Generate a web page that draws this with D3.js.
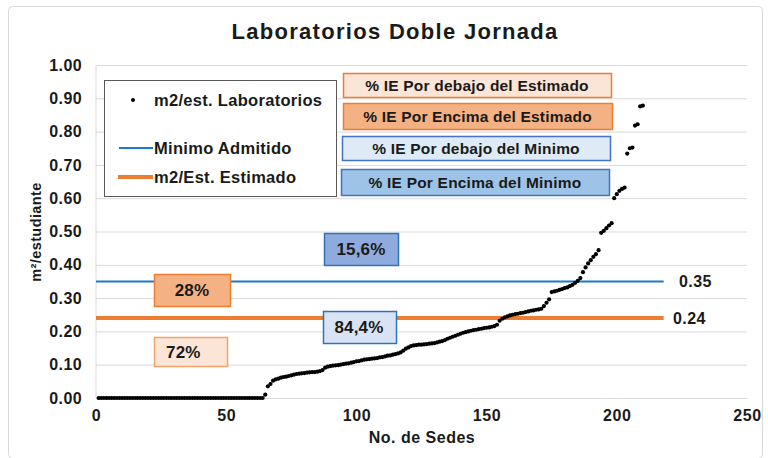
<!DOCTYPE html>
<html>
<head>
<meta charset="utf-8">
<script src="https://cdn.jsdelivr.net/npm/d3@7/dist/d3.min.js"></script>
<style>
	body { margin: 0; background: #fff; }
	svg text { font-family: "Liberation Sans", Arial, sans-serif; font-weight: bold; fill: #1a1a1a; }
</style>
</head>
<body>
<div id="chart"></div>
<script>

// m2 por estudiante en laboratorios, sedes ordenadas (sede 1..210)
var m2Laboratorios = [
	0, 0, 0, 0, 0, 0, 0, 0, 0, 0,
	0, 0, 0, 0, 0, 0, 0, 0, 0, 0,
	0, 0, 0, 0, 0, 0, 0, 0, 0, 0,
	0, 0, 0, 0, 0, 0, 0, 0, 0, 0,
	0, 0, 0, 0, 0, 0, 0, 0, 0, 0,
	0, 0, 0, 0, 0, 0, 0, 0, 0, 0,
	0, 0, 0, 0, 0.010, 0.035, 0.042, 0.052, 0.056, 0.058,
	0.061, 0.063, 0.064, 0.066, 0.068, 0.070, 0.072, 0.073, 0.074, 0.075,
	0.076, 0.077, 0.078, 0.078, 0.079, 0.081, 0.084, 0.091, 0.094, 0.096,
	0.097, 0.098, 0.099, 0.100, 0.102, 0.103, 0.104, 0.106, 0.108, 0.110,
	0.111, 0.113, 0.115, 0.116, 0.117, 0.118, 0.119, 0.120, 0.122, 0.123,
	0.125, 0.127, 0.128, 0.130, 0.132, 0.134, 0.137, 0.142, 0.148, 0.152,
	0.156, 0.158, 0.159, 0.160, 0.160, 0.161, 0.162, 0.163, 0.164, 0.165,
	0.167, 0.169, 0.171, 0.174, 0.178, 0.181, 0.184, 0.187, 0.190, 0.193,
	0.196, 0.198, 0.200, 0.202, 0.204, 0.205, 0.207, 0.208, 0.210, 0.211,
	0.212, 0.214, 0.216, 0.220, 0.232, 0.238, 0.242, 0.245, 0.248, 0.250,
	0.252, 0.253, 0.255, 0.256, 0.258, 0.260, 0.262, 0.263, 0.265, 0.266,
	0.268, 0.276, 0.286, 0.296, 0.318, 0.320, 0.322, 0.325, 0.327, 0.330,
	0.332, 0.336, 0.340, 0.346, 0.352, 0.360, 0.378, 0.392, 0.404, 0.414,
	0.424, 0.432, 0.444, 0.496, 0.502, 0.510, 0.518, 0.525, 0.600, 0.612,
	0.622, 0.628, 0.632, 0.734, 0.750, 0.752, 0.818, 0.822, 0.876, 0.878
];

var minimoAdmitido = 0.35;
var m2Estimado = 0.24;
var lineasX = [0, 218];

var xTicks = [0, 50, 100, 150, 200, 250];
var yTicks = [0, 0.1, 0.2, 0.3, 0.4, 0.5, 0.6, 0.7, 0.8, 0.9, 1.0];

var titulo = 'Laboratorios Doble Jornada';
var tituloX = 'No. de Sedes';
var tituloY = 'm²/estudiante';
var leyenda = ['m2/est. Laboratorios', 'Minimo Admitido', 'm2/Est. Estimado'];
var cajasIE = ['% IE Por debajo del Estimado', '% IE Por Encima del Estimado', '% IE Por debajo del Minimo', '% IE Por Encima del Minimo'];
var porcentajes = ['15,6%', '28%', '84,4%', '72%'];

// layout (px)
var width = 768, height = 458;
var plot = { left: 96, right: 747, top: 65, bottom: 398 };

var cajasIELayout = [
	{ x: 343, y: 73, w: 268, h: 24, fill: '#fbe5d6', stroke: '#ed7d31' },
	{ x: 343, y: 103, w: 269, h: 26, fill: '#f4b183', stroke: '#ed7d31' },
	{ x: 342, y: 136, w: 268, h: 24, fill: '#deebf7', stroke: '#4472c4' },
	{ x: 341, y: 169, w: 268, h: 26, fill: '#9dc3e6', stroke: '#4472c4' }
];
var porcentajesLayout = [
	{ x: 324, y: 233, w: 74, h: 32, fill: '#8faadc', stroke: '#2e75b6', tx: 361, anchor: 'middle' },
	{ x: 154, y: 274, w: 76, h: 32, fill: '#f4b183', stroke: '#ed7d31', tx: 192, anchor: 'middle' },
	{ x: 323, y: 311, w: 73, h: 32, fill: '#dae3f3', stroke: '#2e75b6', tx: 359, anchor: 'middle' },
	{ x: 154, y: 337, w: 73, h: 29, fill: '#fbe5d6', stroke: '#f4a16a', tx: 166, anchor: 'start' }
];

var svg = d3.select('#chart').append('svg')
	.attr('width', width)
	.attr('height', height);

svg.append('rect')
	.attr('x', 8.5).attr('y', 6.5)
	.attr('width', 754).attr('height', 452)
	.attr('rx', 4)
	.attr('fill', '#fff')
	.attr('stroke', '#d9d9d9');

var x = d3.scaleLinear().domain([0, 250]).range([plot.left, plot.right]);
var y = d3.scaleLinear().domain([0, 1]).range([plot.bottom, plot.top]);

// eje y + grilla
var yAxis = svg.append('g')
	.attr('transform', 'translate(' + plot.left + ',0)')
	.call(d3.axisLeft(y)
		.tickValues(yTicks)
		.tickFormat(d3.format('.2f'))
		.tickSize(-(plot.right - plot.left))
		.tickPadding(14));
yAxis.select('.domain').remove();
yAxis.selectAll('line').attr('stroke', '#d9d9d9');
yAxis.selectAll('text')
	.attr('fill', '#1a1a1a')
	.style('font-size', '16px')
	.style('letter-spacing', '0.4px');

svg.append('line')
	.attr('x1', plot.left).attr('x2', plot.left)
	.attr('y1', plot.top).attr('y2', plot.bottom)
	.attr('stroke', '#d9d9d9');

var xAxis = svg.append('g')
	.attr('transform', 'translate(0,' + plot.bottom + ')')
	.call(d3.axisBottom(x)
		.tickValues(xTicks)
		.tickSize(0)
		.tickPadding(12));
xAxis.select('.domain').remove();
xAxis.selectAll('text')
	.attr('fill', '#1a1a1a')
	.style('font-size', '16px')
	.style('letter-spacing', '0.6px');

// titulos
svg.append('text')
	.attr('x', 395).attr('y', 39)
	.attr('text-anchor', 'middle')
	.style('font-size', '22px')
	.style('letter-spacing', '1.3px')
	.attr('fill', '#000')
	.text(titulo);

svg.append('text')
	.attr('x', 422).attr('y', 443)
	.attr('text-anchor', 'middle')
	.style('font-size', '16px')
	.style('letter-spacing', '0.5px')
	.text(tituloX);

svg.append('text')
	.attr('transform', 'translate(41,232) rotate(-90)')
	.attr('text-anchor', 'middle')
	.style('font-size', '14.5px')
	.style('letter-spacing', '0.4px')
	.text(tituloY);

// lineas de referencia
var refs = [
	{ v: minimoAdmitido, color: '#1f78c8', w: 2, lx: 679, ly: 287 },
	{ v: m2Estimado, color: '#ed7d31', w: 4, lx: 673, ly: 324 }
];
refs.forEach(function(r) {
	svg.append('line')
		.attr('x1', x(lineasX[0])).attr('x2', x(lineasX[1]))
		.attr('y1', y(r.v)).attr('y2', y(r.v))
		.attr('stroke', r.color)
		.attr('stroke-width', r.w);
	svg.append('text')
		.attr('x', r.lx).attr('y', r.ly)
		.style('font-size', '16px')
		.style('letter-spacing', '0.4px')
		.text(d3.format('.2f')(r.v));
});

// puntos
svg.append('g').selectAll('circle')
	.data(m2Laboratorios)
	.enter()
		.append('circle')
		.attr('cx', function(d, i) { return x(i + 1); })
		.attr('cy', function(d) { return y(d); })
		.attr('r', 2.1)
		.attr('fill', '#000');

// leyenda
var leg = svg.append('g');
leg.append('rect')
	.attr('x', 104.5).attr('y', 80.5)
	.attr('width', 232).attr('height', 116)
	.attr('fill', '#fff')
	.attr('stroke', '#595959');
var legRows = [100, 148, 177];
leg.append('circle').attr('cx', 133).attr('cy', legRows[0]).attr('r', 2).attr('fill', '#000');
leg.append('line').attr('x1', 119).attr('x2', 153).attr('y1', legRows[1]).attr('y2', legRows[1])
	.attr('stroke', '#1f78c8').attr('stroke-width', 2);
leg.append('line').attr('x1', 118).attr('x2', 153).attr('y1', legRows[2]).attr('y2', legRows[2])
	.attr('stroke', '#ed7d31').attr('stroke-width', 4);
leg.selectAll('text.legtxt')
	.data(leyenda)
	.enter()
		.append('text')
		.attr('class', 'legtxt')
		.attr('x', 154)
		.attr('y', function(d, i) { return legRows[i] + 6; })
		.style('font-size', '16.5px')
		.style('letter-spacing', '0.3px')
		.text(function(d) { return d; });

// cajas de texto
var cajas = svg.append('g');
cajasIE.forEach(function(t, i) {
	var c = cajasIELayout[i];
	cajas.append('rect')
		.attr('x', c.x + 0.5).attr('y', c.y + 0.5)
		.attr('width', c.w).attr('height', c.h)
		.attr('fill', c.fill)
		.attr('stroke', c.stroke)
		.attr('stroke-width', 1.5);
	cajas.append('text')
		.attr('x', c.x + c.w / 2).attr('y', c.y + c.h / 2 + 5.5)
		.attr('text-anchor', 'middle')
		.style('font-size', '15.5px')
		.style('letter-spacing', '0.2px')
		.text(t);
});

porcentajes.forEach(function(t, i) {
	var c = porcentajesLayout[i];
	cajas.append('rect')
		.attr('x', c.x + 0.5).attr('y', c.y + 0.5)
		.attr('width', c.w).attr('height', c.h)
		.attr('fill', c.fill)
		.attr('stroke', c.stroke)
		.attr('stroke-width', 1.5);
	cajas.append('text')
		.attr('x', c.tx).attr('y', c.y + c.h / 2 + 6)
		.attr('text-anchor', c.anchor)
		.style('font-size', '17px')
		.style('letter-spacing', '0.2px')
		.text(t);
});

</script>
</body>
</html>
